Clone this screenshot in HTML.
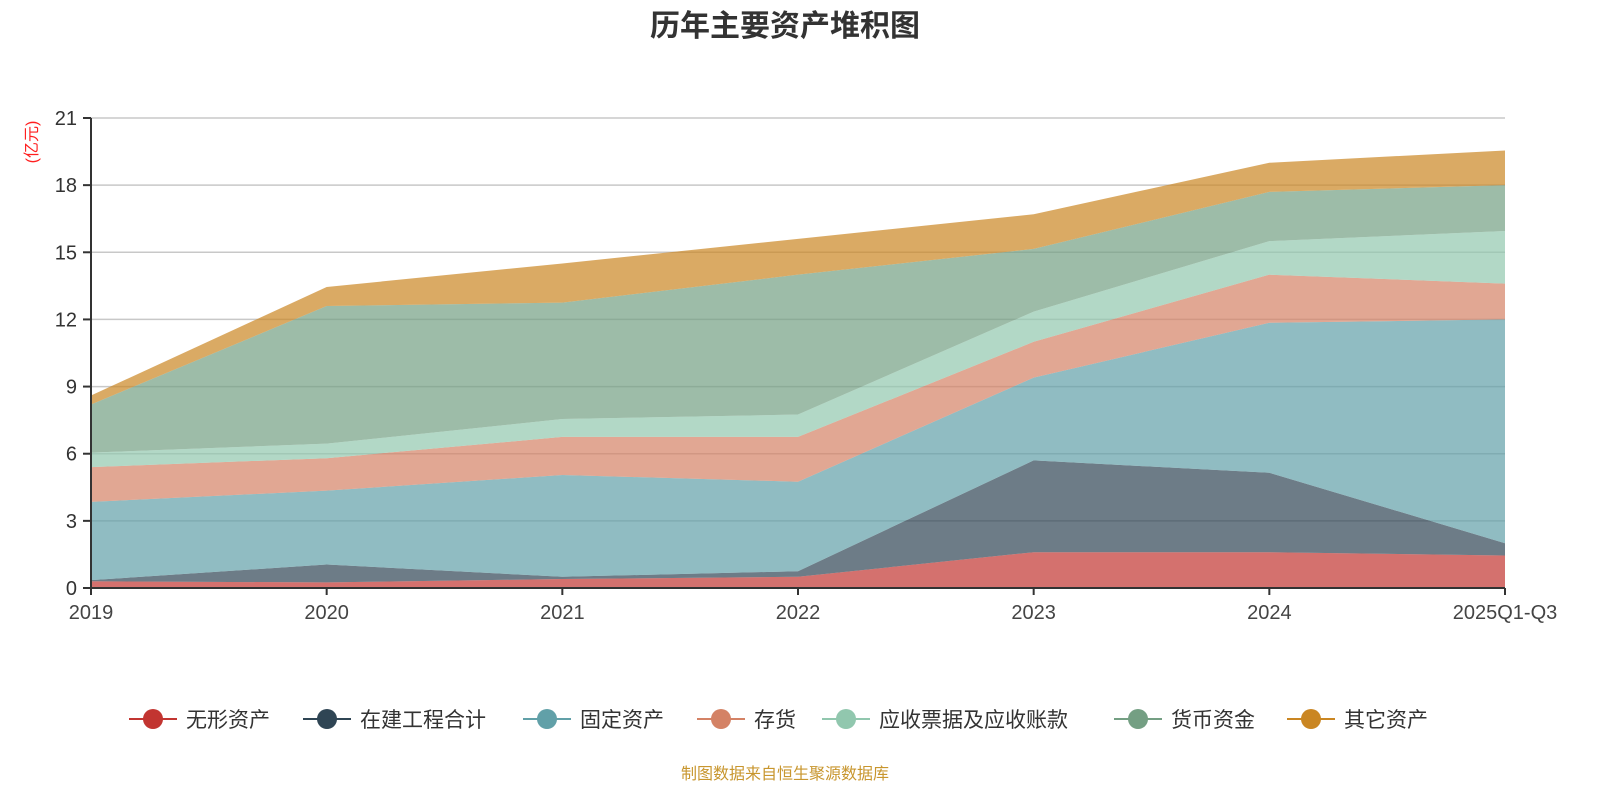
<!DOCTYPE html>
<html><head><meta charset="utf-8"><style>
body{margin:0;background:#fff;width:1600px;height:800px;overflow:hidden;font-family:"Liberation Sans","Noto Sans CJK SC",sans-serif}
</style></head><body>
<svg id="chart" width="1600" height="800" xmlns="http://www.w3.org/2000/svg" font-family="Liberation Sans, Noto Sans CJK SC, sans-serif">
<text x="785" y="36" text-anchor="middle" font-size="30" font-weight="bold" fill="#333">历年主要资产堆积图</text>
<text transform="translate(37,142) rotate(-90)" text-anchor="middle" font-size="16" fill="#ff2020">(亿元)</text>
<g id="grid"></g><g id="areas"></g><g id="axes"></g><g id="legend"></g>
<text x="785" y="779" text-anchor="middle" font-size="16" fill="#c8962e">制图数据来自恒生聚源数据库</text>
</svg>
<script>
const categories=["2019","2020","2021","2022","2023","2024","2025Q1-Q3"];
const seriesNames=["无形资产","在建工程合计","固定资产","存货","应收票据及应收账款","货币资金","其它资产"];
const intangible=[0.3,0.25,0.4,0.5,1.6,1.6,1.45];
const construction=[0.05,0.8,0.1,0.25,4.1,3.55,0.55];
const fixedAssets=[3.5,3.3,4.55,4.0,3.7,6.7,10.0];
const inventory=[1.55,1.45,1.7,2.0,1.6,2.15,1.6];
const receivables=[0.65,0.65,0.8,1.0,1.35,1.5,2.35];
const cash=[2.15,6.15,5.2,6.25,2.8,2.2,2.05];
const other=[0.4,0.85,1.75,1.6,1.55,1.3,1.55];
const yTicks=[0,3,6,9,12,15,18,21];
const lineColors=["#c23531","#2f4554","#61a0a8","#d48265","#91c7ae","#749f83","#ca8622"];
const x0=91,x1=1505,y0=588,y1=118,ymax=21;
const X=i=>x0+i*(x1-x0)/(categories.length-1);
const Y=v=>y0-v*(y0-y1)/ymax;
const NS="http://www.w3.org/2000/svg";
function mk(t,a,p){const e=document.createElementNS(NS,t);for(const k in a)e.setAttribute(k,a[k]);p.appendChild(e);return e;}
const grid=document.getElementById('grid'),areas=document.getElementById('areas'),axes=document.getElementById('axes'),legend=document.getElementById('legend');
yTicks.forEach(t=>{
 if(t>0){const g=mk('line',{x1:x0,x2:x1,y1:Y(t),y2:Y(t),stroke:'#c8c8c8','stroke-width':1.5},grid);
 
 }
 const tk=mk('line',{x1:x0-8,x2:x0,y1:Y(t),y2:Y(t),stroke:'#333','stroke-width':2},axes);
 
 
 const l=mk('text',{x:x0-14,y:Y(t)+7,'text-anchor':'end','font-size':20,fill:'#333'},axes);l.textContent=t;
 
 
});
const all=[intangible,construction,fixedAssets,inventory,receivables,cash,other];
let base=categories.map(()=>0);
all.forEach((s,k)=>{
 const top=base.map((b,i)=>b+s[i]);
 let d='M'+top.map((v,i)=>X(i)+','+Y(v)).join('L');
 for(let i=categories.length-1;i>=0;i--)d+='L'+X(i)+','+Y(base[i]);
 const p=mk('path',{d:d+'Z',fill:lineColors[k],'fill-opacity':0.7,stroke:'none'},areas);
 
 
 base=top;
});
const ax=mk('line',{x1:x0,x2:x0,y1:y1,y2:y0,stroke:'#333','stroke-width':2},axes);


const bx=mk('line',{x1:x0,x2:x1,y1:y0,y2:y0,stroke:'#333','stroke-width':2},axes);


categories.forEach((c,i)=>{
 const tk=mk('line',{x1:X(i),x2:X(i),y1:y0,y2:y0+7,stroke:'#333','stroke-width':2},axes);
 
 
 const t=mk('text',{x:X(i),y:y0+31,'text-anchor':'middle','font-size':20,fill:'#444'},axes);t.textContent=c;
 
 
});
const legX=[129,303,523,697,822,1114,1287];
seriesNames.forEach((n,k)=>{
 const g=mk('g',{},legend);
 
 
 const x=legX[k];
 mk('line',{x1:x,x2:x+48,y1:719,y2:719,stroke:lineColors[k],'stroke-width':2},g);
 mk('circle',{cx:x+24,cy:719,r:10,fill:lineColors[k]},g);
 const t=mk('text',{x:x+57,y:727,'font-size':21,fill:'#333'},g);t.textContent=n;
});
</script>
</body></html>
